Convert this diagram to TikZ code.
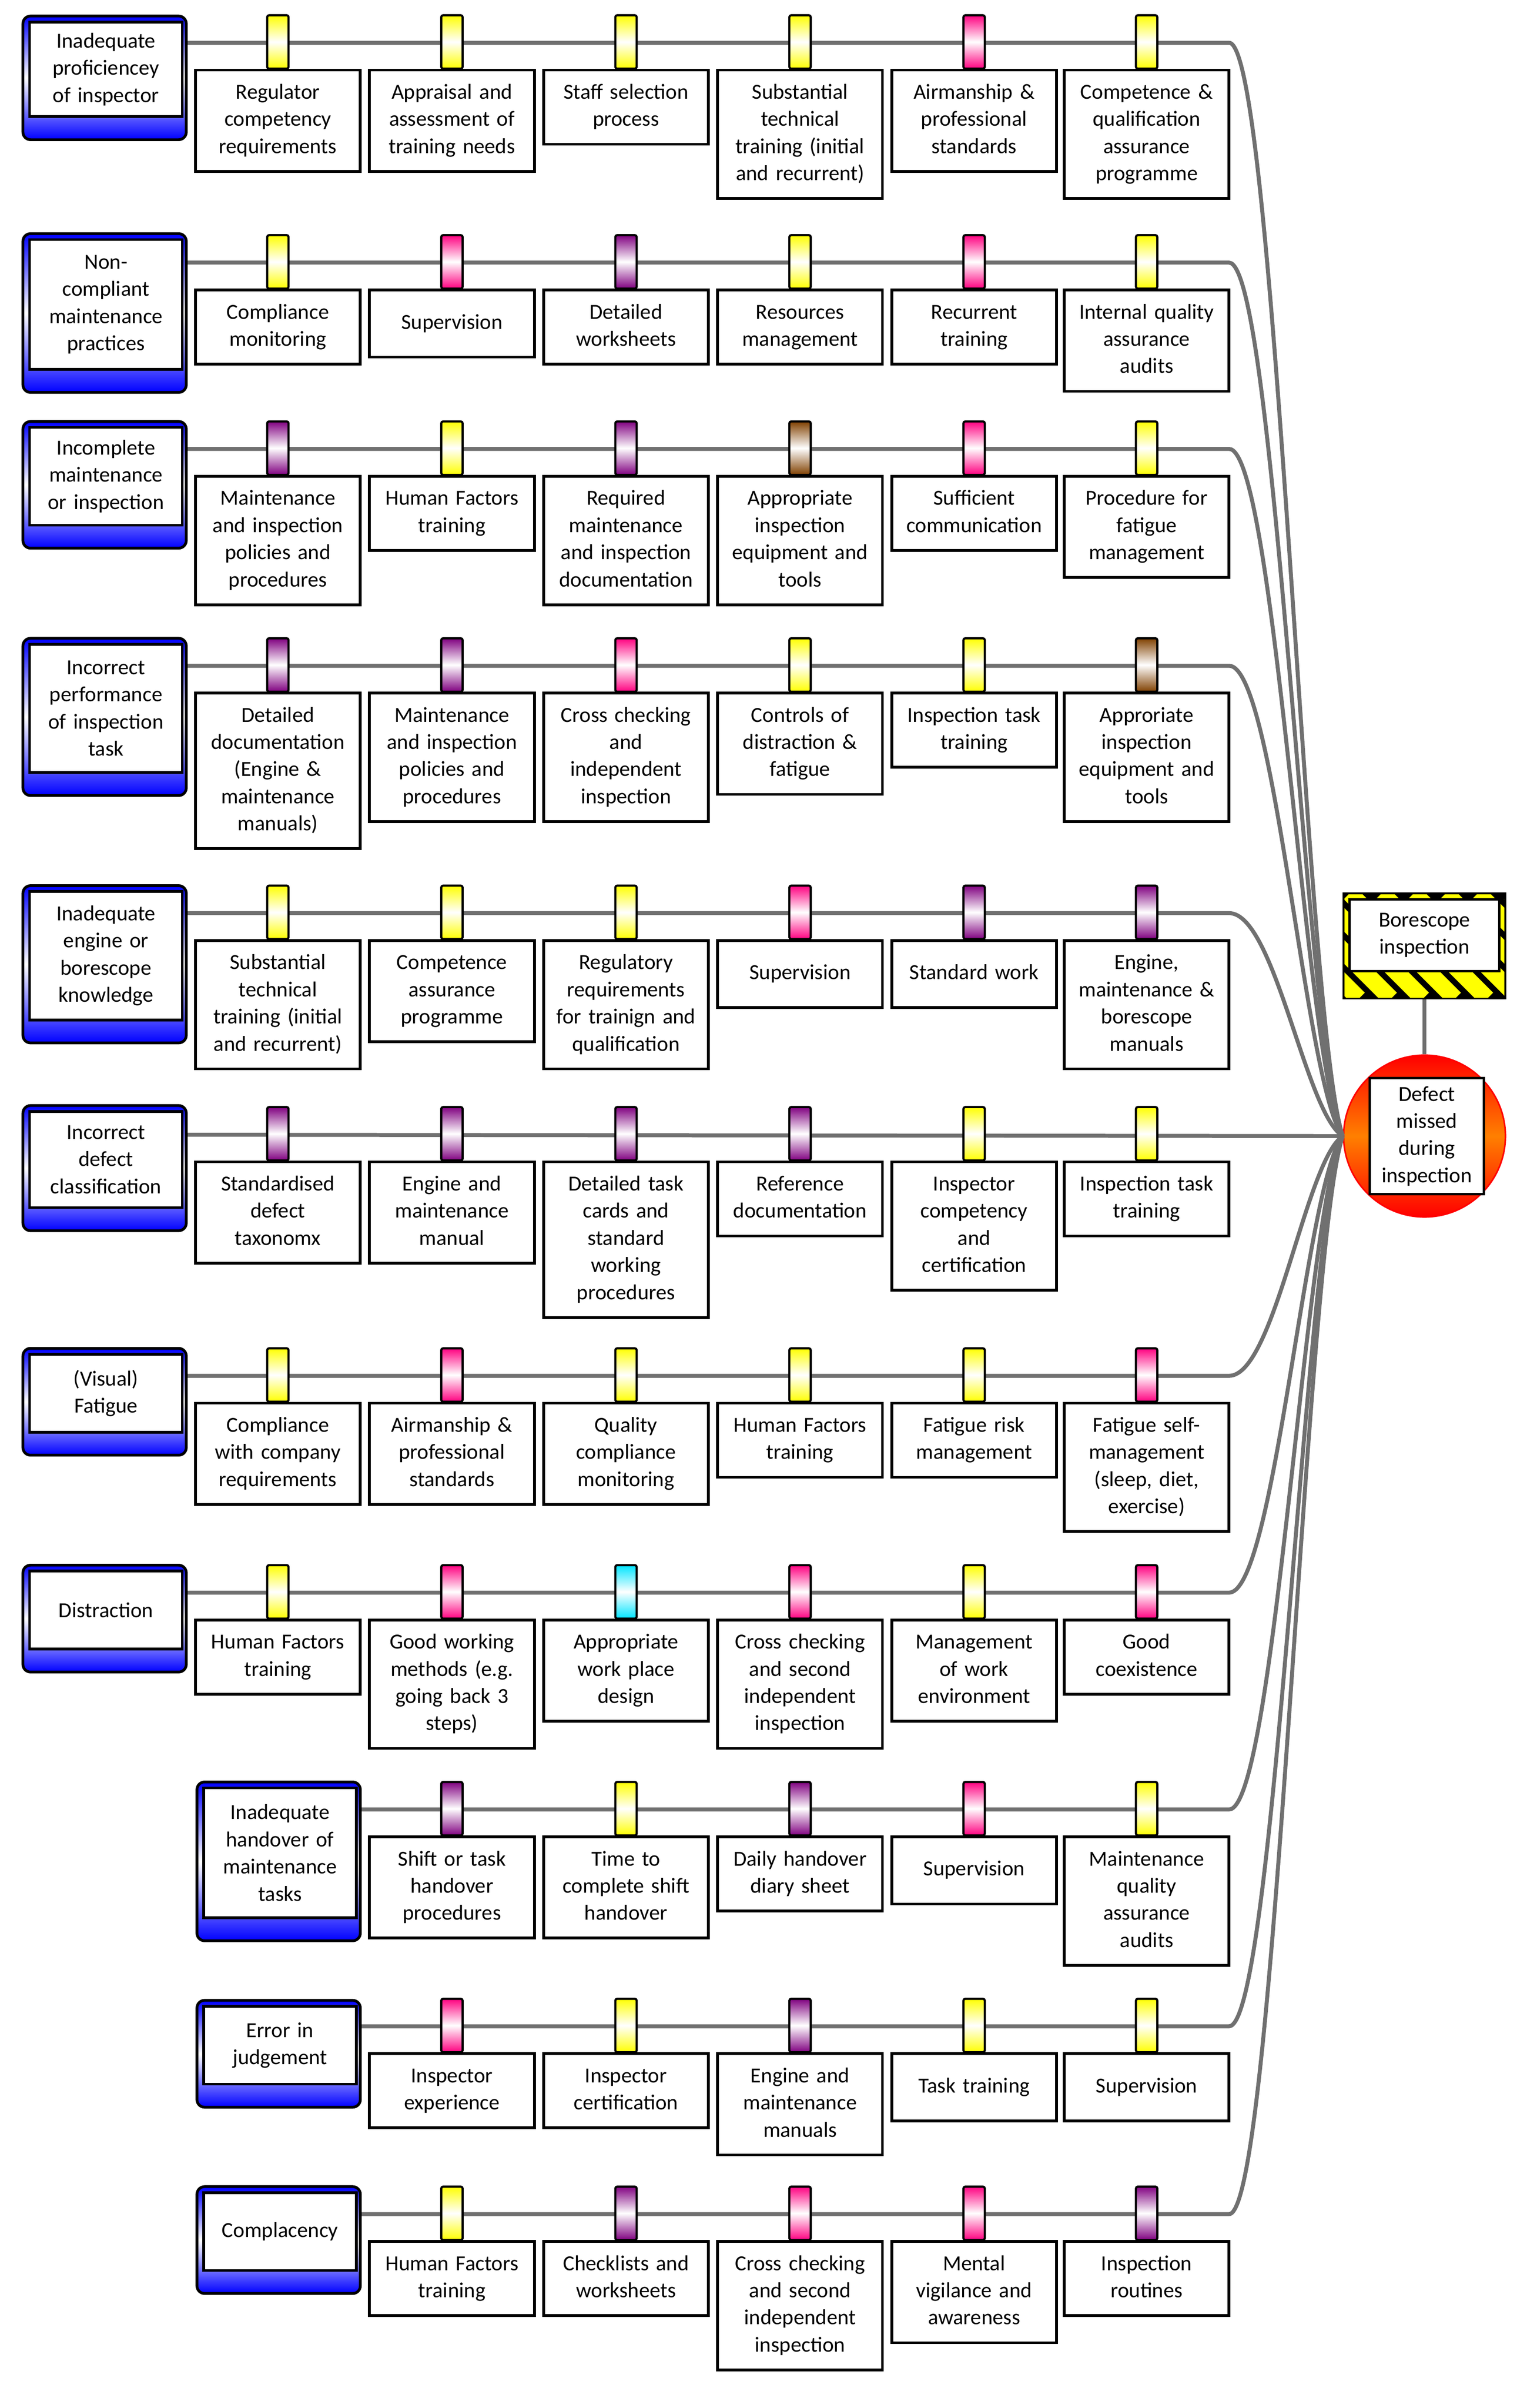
\documentclass[tikz,border=0pt]{standalone}
\usepackage{fontspec}
\setmainfont{Carlito}
\definecolor{cpink}{HTML}{FF0080}
\definecolor{cpurple}{HTML}{800080}
\definecolor{cbrown}{HTML}{804000}
\definecolor{cyel}{HTML}{FFFF00}
\definecolor{ccyan}{HTML}{00E5FF}
\definecolor{cgray}{HTML}{707070}
\definecolor{cblue}{HTML}{0000FF}
\newcommand\txtfont{\fontsize{20}{25.3}\selectfont}
\tikzset{
  conn/.style={draw=cgray, line width=1.3mm},
  bbox/.style={draw=black, line width=0.9mm, fill=white, align=center, font=\txtfont,
    text width=5.2cm, minimum width=5.4cm, inner xsep=0.1cm, inner ysep=0.325cm,
    minimum height=2.2cm, execute at begin node=\strut, execute at end node=\strut},
  tinner/.style={draw=black, line width=0.9mm, fill=white, align=center, font=\txtfont,
    text width=4.9cm, minimum width=5cm, inner xsep=0.05cm, inner ysep=0.1cm},
  peg/.style={draw=black, line width=0.7mm, rounded corners=0.6mm}
}
\newcommand\threat[5]{%
  \shade[top color=cblue, bottom color=cblue, middle color=white, draw=black, line width=0.9mm, rounded corners=0.25cm]
    (#2,#3) rectangle ({#2+107},{#3+#4});
  \node[tinner, minimum height={(#4-19)*0.05cm}, anchor=north west] (#1) at ({#2+3.5},{#3+3}) {#5};}
\newcommand\barrier[5]{%
  \shade[peg, top color=#4, bottom color=#4, middle color=white] ({#2-7},{#3-18}) rectangle ({#2+7},{#3+17});
  \node[bbox, anchor=north] (#1) at (#2,{#3+17}) {#5};}
\newcommand\rowline[3]{% name, xstart, y
  \coordinate (s#1) at (#2,#3);
  \coordinate (e#1) at (805,#3);
  \draw[conn] (s#1) -- (e#1) .. controls (835,#3) and (855,{744+(#3-744)*0.1}) .. (ev.west);}
\begin{document}
\begin{tikzpicture}[x=0.05cm,y=-0.05cm]
\useasboundingbox (0,0) rectangle (1000,1577);
% event and hazard
\node[circle, minimum size=5.3cm, inner sep=0pt, draw=red, line width=0.5mm,
  top color=red, bottom color=red, middle color=orange] (ev) at (933,744) {};
\node[draw=none, minimum width=5.3cm, minimum height=3.45cm, inner sep=0pt] (hz) at (933,619.5) {};
\draw[conn] (hz.south) -- (ev.north);
\begin{scope}
  \clip (880,585) rectangle (986,654);
  \fill[black] (880,585) rectangle (986,654);
  \foreach \s in {800,821,...,1000} \draw[cyel, line width=0.55cm] (\s,585) -- ({\s+69},654);
\end{scope}
\draw[black, line width=0.6mm] (880,585) rectangle (986,654);
\node[draw=black, line width=0.8mm, fill=white, minimum width=4.9cm, minimum height=2.35cm,
  inner sep=0pt, align=center, font=\txtfont] (hzt) at (933,612.5) {Borescope\\inspection};
\node[draw=black, line width=0.8mm, fill=white, minimum width=3.75cm, minimum height=3.8cm,
  inner sep=0pt, align=center, font=\txtfont] (evt) at (934.5,744) {Defect\\missed\\during\\inspection};
% connectors
\rowline{1}{122}{28}
\rowline{2}{122}{172}
\rowline{3}{122}{294}
\rowline{4}{122}{436}
\rowline{5}{122}{598}
\draw[conn] (15,743) -- (ev.west);
\rowline{7}{122}{901}
\rowline{8}{122}{1043}
\rowline{9}{236}{1185}
\rowline{10}{236}{1327}
\rowline{11}{236}{1450}
% threats
\threat{t1}{15}{10.5}{81}{Inadequate\\proficiencey\\of inspector}
\threat{t2}{15}{153}{104}{Non-\\compliant\\maintenance\\practices}
\threat{t3}{15}{276}{83}{Incomplete\\maintenance\\or inspection}
\threat{t4}{15}{418}{103}{Incorrect\\performance\\of inspection\\task}
\threat{t5}{15}{580}{103}{Inadequate\\engine or\\borescope\\knowledge}
\threat{t6}{15}{724}{82}{Incorrect\\defect\\classification}
\threat{t7}{15}{883}{70}{(Visual)\\Fatigue}
\threat{t8}{15}{1025}{70}{Distraction}
\threat{t9}{129}{1167}{104}{Inadequate\\handover of\\maintenance\\tasks}
\threat{t10}{129}{1310}{70}{Error in\\judgement}
\threat{t11}{129}{1432}{70}{Complacency}
% row 1
\barrier{b1a}{182}{28}{cyel}{Regulator\\competency\\requirements}
\barrier{b1b}{296}{28}{cyel}{Appraisal and\\assessment of\\training needs}
\barrier{b1c}{410}{28}{cyel}{Staff selection\\process}
\barrier{b1d}{524}{28}{cyel}{Substantial\\technical\\training (initial\\and recurrent)}
\barrier{b1e}{638}{28}{cpink}{Airmanship \&\\professional\\standards}
\barrier{b1f}{751}{28}{cyel}{Competence \&\\qualification\\assurance\\programme}
% row 2
\barrier{b2a}{182}{172}{cyel}{Compliance\\monitoring}
\barrier{b2b}{296}{172}{cpink}{Supervision}
\barrier{b2c}{410}{172}{cpurple}{Detailed\\worksheets}
\barrier{b2d}{524}{172}{cyel}{Resources\\management}
\barrier{b2e}{638}{172}{cpink}{Recurrent\\training}
\barrier{b2f}{751}{172}{cyel}{Internal quality\\assurance\\audits}
% row 3
\barrier{b3a}{182}{294}{cpurple}{Maintenance\\and inspection\\policies and\\procedures}
\barrier{b3b}{296}{294}{cyel}{Human Factors\\training}
\barrier{b3c}{410}{294}{cpurple}{Required\\maintenance\\and inspection\\documentation}
\barrier{b3d}{524}{294}{cbrown}{Appropriate\\inspection\\equipment and\\tools}
\barrier{b3e}{638}{294}{cpink}{Sufficient\\communication}
\barrier{b3f}{751}{294}{cyel}{Procedure for\\fatigue\\management}
% row 4
\barrier{b4a}{182}{436}{cpurple}{Detailed\\documentation\\(Engine \&\\maintenance\\manuals)}
\barrier{b4b}{296}{436}{cpurple}{Maintenance\\and inspection\\policies and\\procedures}
\barrier{b4c}{410}{436}{cpink}{Cross checking\\and\\independent\\inspection}
\barrier{b4d}{524}{436}{cyel}{Controls of\\distraction \&\\fatigue}
\barrier{b4e}{638}{436}{cyel}{Inspection task\\training}
\barrier{b4f}{751}{436}{cbrown}{Approriate\\inspection\\equipment and\\tools}
% row 5
\barrier{b5a}{182}{598}{cyel}{Substantial\\technical\\training (initial\\and recurrent)}
\barrier{b5b}{296}{598}{cyel}{Competence\\assurance\\programme}
\barrier{b5c}{410}{598}{cyel}{Regulatory\\requirements\\for trainign and\\qualification}
\barrier{b5d}{524}{598}{cpink}{Supervision}
\barrier{b5e}{638}{598}{cpurple}{Standard work}
\barrier{b5f}{751}{598}{cpurple}{Engine,\\maintenance \&\\borescope\\manuals}
% row 6
\barrier{b6a}{182}{743}{cpurple}{Standardised\\defect\\taxonomx}
\barrier{b6b}{296}{743}{cpurple}{Engine and\\maintenance\\manual}
\barrier{b6c}{410}{743}{cpurple}{Detailed task\\cards and\\standard\\working\\procedures}
\barrier{b6d}{524}{743}{cpurple}{Reference\\documentation}
\barrier{b6e}{638}{743}{cyel}{Inspector\\competency\\and\\certification}
\barrier{b6f}{751}{743}{cyel}{Inspection task\\training}
% row 7
\barrier{b7a}{182}{901}{cyel}{Compliance\\with company\\requirements}
\barrier{b7b}{296}{901}{cpink}{Airmanship \&\\professional\\standards}
\barrier{b7c}{410}{901}{cyel}{Quality\\compliance\\monitoring}
\barrier{b7d}{524}{901}{cyel}{Human Factors\\training}
\barrier{b7e}{638}{901}{cyel}{Fatigue risk\\management}
\barrier{b7f}{751}{901}{cpink}{Fatigue self-\\management\\(sleep, diet,\\exercise)}
% row 8
\barrier{b8a}{182}{1043}{cyel}{Human Factors\\training}
\barrier{b8b}{296}{1043}{cpink}{Good working\\methods (e.g.\\going back 3\\steps)}
\barrier{b8c}{410}{1043}{ccyan}{Appropriate\\work place\\design}
\barrier{b8d}{524}{1043}{cpink}{Cross checking\\and second\\independent\\inspection}
\barrier{b8e}{638}{1043}{cyel}{Management\\of work\\environment}
\barrier{b8f}{751}{1043}{cpink}{Good\\coexistence}
% row 9
\barrier{b9b}{296}{1185}{cpurple}{Shift or task\\handover\\procedures}
\barrier{b9c}{410}{1185}{cyel}{Time to\\complete shift\\handover}
\barrier{b9d}{524}{1185}{cpurple}{Daily handover\\diary sheet}
\barrier{b9e}{638}{1185}{cpink}{Supervision}
\barrier{b9f}{751}{1185}{cyel}{Maintenance\\quality\\assurance\\audits}
% row 10
\barrier{b10b}{296}{1327}{cpink}{Inspector\\experience}
\barrier{b10c}{410}{1327}{cyel}{Inspector\\certification}
\barrier{b10d}{524}{1327}{cpurple}{Engine and\\maintenance\\manuals}
\barrier{b10e}{638}{1327}{cyel}{Task training}
\barrier{b10f}{751}{1327}{cyel}{Supervision}
% row 11
\barrier{b11b}{296}{1450}{cyel}{Human Factors\\training}
\barrier{b11c}{410}{1450}{cpurple}{Checklists and\\worksheets}
\barrier{b11d}{524}{1450}{cpink}{Cross checking\\and second\\independent\\inspection}
\barrier{b11e}{638}{1450}{cpink}{Mental\\vigilance and\\awareness}
\barrier{b11f}{751}{1450}{cpurple}{Inspection\\routines}
\end{tikzpicture}
\end{document}
